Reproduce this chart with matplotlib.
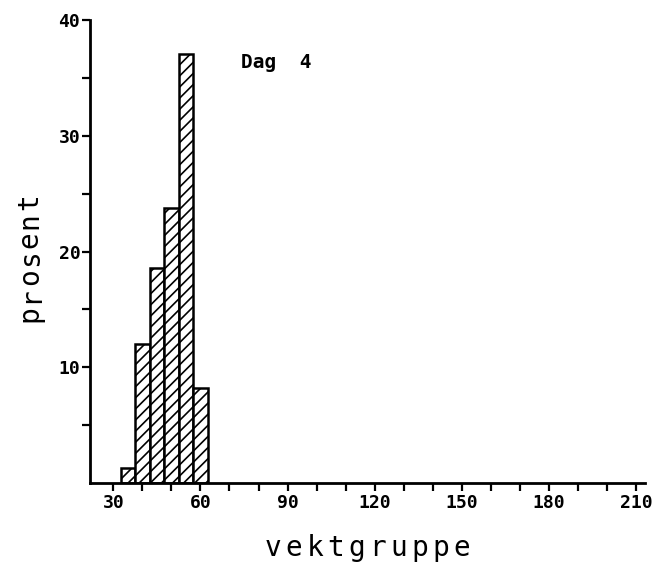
import numpy as np
import matplotlib
matplotlib.use("Agg")
import matplotlib.pyplot as plt

# vektgrupper (midtpunkt) og andel i prosent, dag 4
bin_centers = [35, 40, 45, 50, 55, 60]
percent = [1.3, 12.0, 18.6, 23.8, 37.1, 8.2]
bin_width = 5

x_ticks = list(range(30, 211, 10))
x_labels = [str(v) if v % 30 == 0 else "" for v in x_ticks]
y_major = [10, 20, 30, 40]
y_minor = [5, 15, 25, 35]

MONO = "DejaVu Sans Mono"
plt.rcParams["hatch.linewidth"] = 1.2


def spaced_text(fig, s, x, y, step, rotation=0, **kw):
    """Skriver tekst bokstav for bokstav med ekstra sperring."""
    n = len(s)
    for i, ch in enumerate(s):
        off = (i - (n - 1) / 2) * step
        if rotation == 90:
            fig.text(x, y + off, ch, rotation=90, ha="center", va="center", **kw)
        else:
            fig.text(x + off, y, ch, ha="center", va="baseline", **kw)


fig = plt.figure(figsize=(6.59, 5.73), dpi=100)
ax = fig.add_axes([0.1366, 0.157, 0.842, 0.808])

ax.bar(bin_centers, percent, width=bin_width, color="white", edgecolor="black",
       linewidth=1.8, hatch="///", zorder=2)

ax.set_xlim(22, 213)
ax.set_ylim(0, 40)

for s in ("top", "right"):
    ax.spines[s].set_visible(False)
for s in ("left", "bottom"):
    ax.spines[s].set_linewidth(2)

ax.set_xticks(x_ticks)
ax.set_xticklabels(x_labels)
ax.set_yticks(y_major)
ax.set_yticks(y_minor, minor=True)
ax.tick_params(axis="both", which="both", direction="out", length=6, width=1.6)
ax.tick_params(axis="x", pad=2)
ax.tick_params(axis="y", pad=1)
for lab in ax.get_xticklabels() + ax.get_yticklabels():
    lab.set_fontfamily(MONO)
    lab.set_fontweight("bold")
    lab.set_fontsize(13)

ax.text(74, 36.3, "Dag  4", fontfamily=MONO, fontweight="bold", fontsize=14,
        ha="left", va="center")

spaced_text(fig, "vektgruppe", 0.557, 0.03, 0.0318, fontfamily=MONO, fontsize=20)
spaced_text(fig, "prosent", 0.045, 0.55, 0.0325, rotation=90, fontfamily=MONO,
            fontsize=20)

fig.savefig("out.png", dpi=100, facecolor="white")
